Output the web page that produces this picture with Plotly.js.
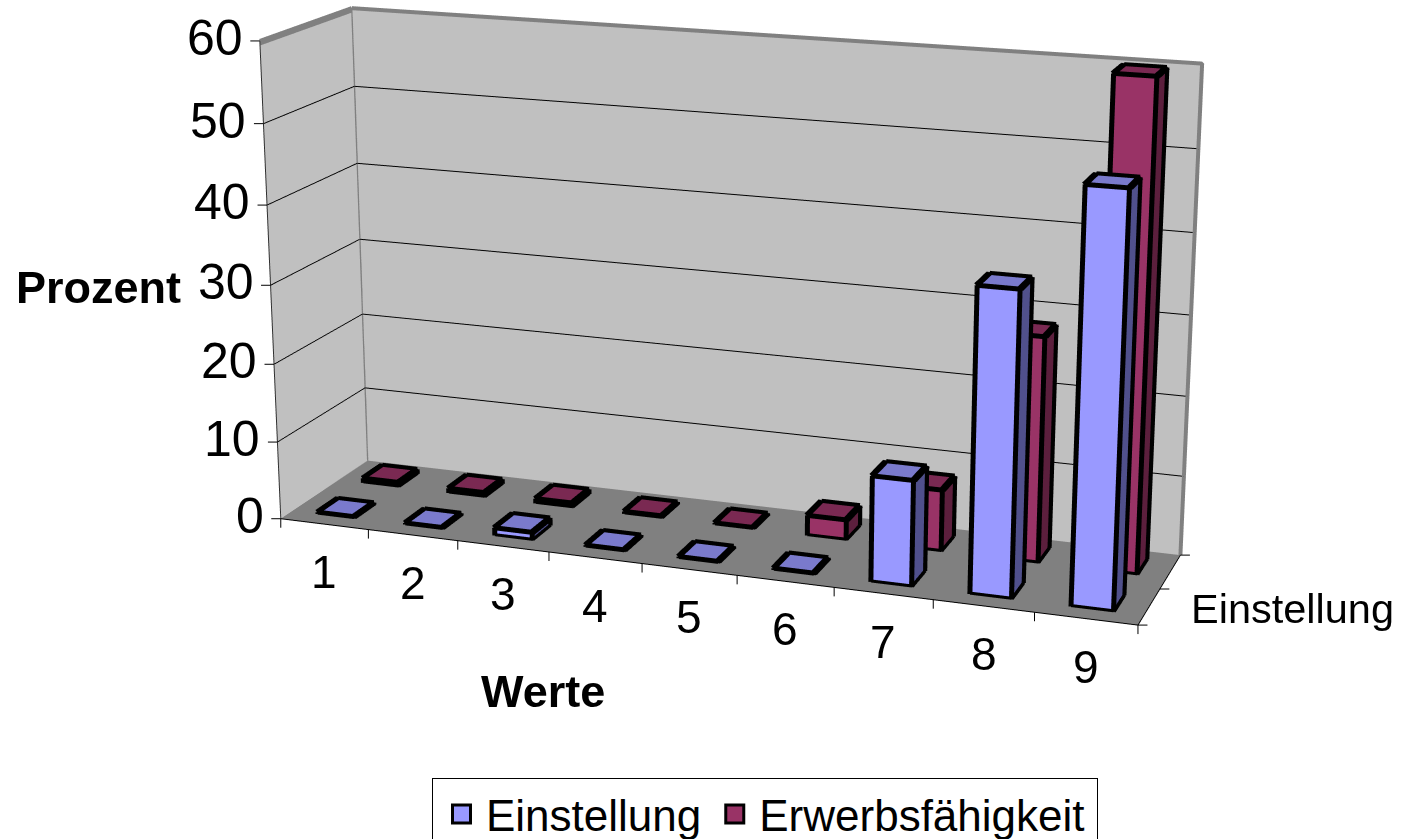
<!DOCTYPE html><html><head><meta charset="utf-8"><script src="https://cdn.plot.ly/plotly-3.0.1.min.js"></script>
<style>html,body{margin:0;padding:0;width:1416px;height:839px;overflow:hidden;background:#fff}#w{position:relative;width:1416px;height:839px;overflow:hidden}#g{position:absolute;left:0;top:-905px;width:1552px;height:2485px}</style></head>
<body><div id="w"><div id="g"></div></div>
<script>
var categories=['1','2','3','4','5','6','7','8','9'];
var seriesNames=['Einstellung','Erwerbsfähigkeit'];
var einstellung=[0.1,0.1,0.9,0.1,0.1,0.1,13,37,49.6];
var erwerb=[0.5,0.5,0.5,0.2,0.1,2.5,7.7,28,59.7];
var zTicks=[0,10,20,30,40,50,60];
var gridTicks=[10,20,30,40,50];
var laneBand=[[0.28,0.7],[1.33,1.75]];
var catBand=[0.305,0.695];
var faceColors=[['#9999ff','#7a7acc','#50508c'],['#993366','#7a2952','#5c1f3d']];
var edgeOut=[0.012,0.02,0.12];
var depthCopies=[-0.012,0,0.012];
function bars(vals,lane,cols){
 var X=[],Y=[],Z=[],I=[],J=[],K=[],FC=[],LX=[],LY=[],LZ=[];
 vals.forEach(function(v,c){var x0=c+catBand[0],x1=c+catBand[1],y0=laneBand[lane][0],y1=laneBand[lane][1],n=X.length;
  [[x0,y0,0],[x1,y0,0],[x1,y1,0],[x0,y1,0],[x0,y0,v],[x1,y0,v],[x1,y1,v],[x0,y1,v]].forEach(function(p){X.push(p[0]);Y.push(p[1]);Z.push(p[2])});
  [[0,1,5,0],[0,5,4,0],[4,5,6,1],[4,6,7,1],[1,2,6,2],[1,6,5,2]].forEach(function(t){I.push(n+t[0]);J.push(n+t[1]);K.push(n+t[2]);FC.push(cols[t[3]])});
  var a=x0-edgeOut[0],b=x1+edgeOut[0],f=y0-edgeOut[1],g=y1+edgeOut[1],h=v+edgeOut[2];
  var P=[[a,f,0],[b,f,0],[b,g,0],[a,g,0],[a,f,h],[b,f,h],[b,g,h],[a,g,h]];
  [[0,1],[0,4],[1,5],[2,6],[4,5],[6,7]].forEach(function(e){LX.push(P[e[0]][0],P[e[1]][0],null);LY.push(P[e[0]][1],P[e[1]][1],null);LZ.push(P[e[0]][2],P[e[1]][2],null)});
  [[1,2],[5,6],[7,4]].forEach(function(e){depthCopies.forEach(function(d){LX.push(P[e[0]][0]+d,P[e[1]][0]+d,null);LY.push(P[e[0]][1],P[e[1]][1],null);LZ.push(P[e[0]][2],P[e[1]][2],null)})});
 });
 return [{type:'mesh3d',x:X,y:Y,z:Z,i:I,j:J,k:K,facecolor:FC,flatshading:true,lighting:{ambient:1,diffuse:0,specular:0,roughness:1,fresnel:0},hoverinfo:'skip',showlegend:false,showscale:false},
 {type:'scatter3d',mode:'lines',x:LX,y:LY,z:LZ,line:{color:'#000',width:10},hoverinfo:'skip',showlegend:false}];
}
var xMax=categories.length,yMax=2,zMax=60;
var wall={type:'scatter3d',mode:'lines',
 x:[0,0,null,0,0,null,0,0,null,0,xMax,xMax,null,0,0],
 y:[0,yMax,null,0,yMax,null,0,yMax,null,yMax,yMax,yMax,null,yMax,yMax],
 z:[zMax,zMax,null,zMax-0.15,zMax-0.15,null,zMax-0.3,zMax-0.3,null,zMax,zMax,0,null,zMax,0],
 line:{color:'#808080',width:8},hoverinfo:'skip',showlegend:false};
var leg=seriesNames.map(function(n,i){return {type:'scatter3d',mode:'markers',name:n,x:[null],y:[null],z:[null],marker:{symbol:'square',size:16,color:faceColors[i][0],line:{color:'#000',width:2}},showlegend:true,hoverinfo:'skip'}});
var traces=[wall].concat(bars(einstellung,0,faceColors[0]),bars(erwerb,1,faceColors[1]),leg);
var ff='Liberation Sans, Arial, sans-serif';
var ann=[];
function A(x,y,z,t,xs,ys,xa,size){ann.push({x:x,y:y,z:z,text:t,showarrow:false,xshift:xs,yshift:ys,xanchor:xa||'center',yanchor:'middle',font:{family:ff,size:size,color:'#000'}})}
function T(x,y,z,ax,ay){ann.push({x:x,y:y,z:z,text:' ',showarrow:true,arrowhead:0,arrowwidth:1,arrowcolor:'#000',standoff:0,startstandoff:0,ax:ax,ay:ay,font:{size:1}})}
zTicks.forEach(function(v){A(0,0,v,String(v),-15,3,'right',50);T(0,0,v,-11,0)});
categories.forEach(function(c,i){A(i+0.5,0,0,c,0,-48,'center',46)});
for(var i=0;i<=xMax;i++)T(i,0,0,0,11);
for(var j=0;j<=yMax;j++)T(xMax,j,0,11,0);
A(xMax,1,0,seriesNames[0],29,-19,'left',41.5);
var axBase={autorange:false,showgrid:false,zeroline:false,showticklabels:false,title:{text:''},ticks:'',showline:true,linecolor:'#000',linewidth:2,showbackground:true,backgroundcolor:'#c0c0c0',showspikes:false};
var layout={width:1552,height:2485,margin:{l:0,r:0,t:0,b:0,pad:0},paper_bgcolor:'#fff',
 annotations:[{xref:'paper',yref:'paper',x:98/1552,y:1-(287+905)/2485,xanchor:'center',yanchor:'middle',text:'<b>Prozent</b>',showarrow:false,font:{family:ff,size:45,color:'#000'}},
 {xref:'paper',yref:'paper',x:543/1552,y:1-(691+905)/2485,xanchor:'center',yanchor:'middle',text:'<b>Werte</b>',showarrow:false,font:{family:ff,size:45,color:'#000'}}],
 legend:{orientation:'h',x:432/1552,y:1-(778+905)/2485,xanchor:'left',yanchor:'top',bordercolor:'#000',borderwidth:1,font:{family:ff,size:44,color:'#000'},itemsizing:'constant',itemwidth:43,bgcolor:'#fff'},
 scene:{domain:{x:[0,1],y:[0,1]},aspectmode:'manual',aspectratio:{x:0.827,y:0.1852,z:0.459},bgcolor:'#fff',
  camera:{eye:{x:0.8914,y:-2.4901,z:0.7255},center:{x:-0.0641,y:0.3401,z:-0.1341},up:{x:0.4095,y:-1.2213,z:1},projection:{type:'perspective'}},
  xaxis:Object.assign({},axBase,{range:[0,xMax]}),
  yaxis:Object.assign({},axBase,{range:[0,yMax]}),
  zaxis:Object.assign({},axBase,{range:[0,zMax],showgrid:true,gridcolor:'#000',gridwidth:2,tickmode:'array',tickvals:gridTicks,backgroundcolor:'#808080',linecolor:'#303030'}),
  annotations:ann}};
Plotly.newPlot('g',traces,layout,{displayModeBar:false}).then(function(gd){
 gd.querySelectorAll('.legendpoints path').forEach(function(p){var t=p.getAttribute('transform')||'';p.setAttribute('transform',t+' translate(2,0) scale(1.5)')});
 var bg=gd.querySelector('.legend .bg');if(bg)bg.setAttribute('width',665);
});
</script></body></html>
